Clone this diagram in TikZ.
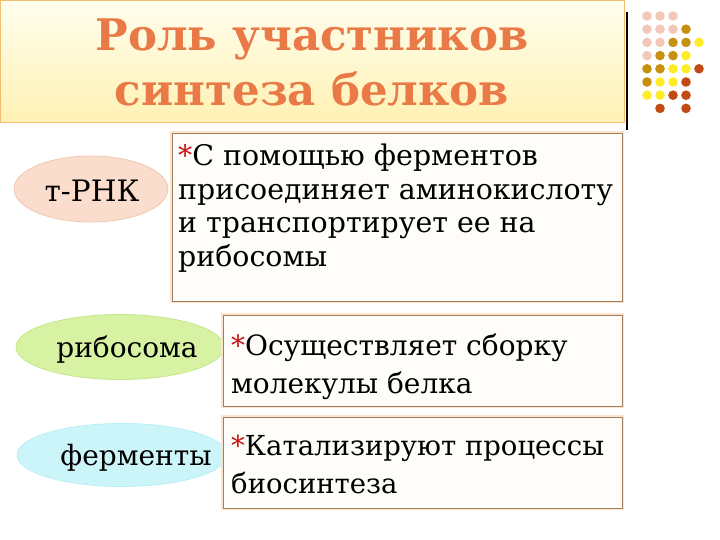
\documentclass[tikz,border=0pt]{standalone}
\usepackage{fontspec}
\setmainfont{DejaVu Serif}
\usetikzlibrary{shapes.geometric}
\definecolor{titlecol}{RGB}{233,122,72}
\definecolor{tboxtop}{RGB}{255,254,238}
\definecolor{tboxbot}{RGB}{255,241,180}
\definecolor{tboxline}{RGB}{240,190,110}
\definecolor{boxline}{RGB}{160,125,95}
\definecolor{boxglow}{RGB}{252,228,205}
\definecolor{boxfill}{RGB}{255,253,250}
\definecolor{starcol}{RGB}{200,20,20}
\definecolor{pinkfill}{RGB}{250,221,204}
\definecolor{pinkline}{RGB}{240,200,176}
\definecolor{greenfill}{RGB}{214,242,162}
\definecolor{greenline}{RGB}{196,232,140}
\definecolor{cyanfill}{RGB}{204,245,250}
\definecolor{cyanline}{RGB}{184,238,245}
\definecolor{dotP}{RGB}{244,200,184}
\definecolor{dotG}{RGB}{200,144,15}
\definecolor{dotY}{RGB}{255,236,40}
\definecolor{dotR}{RGB}{196,74,20}
\tikzset{
  titlebox/.style={draw=tboxline, line width=0.8pt, top color=tboxtop, bottom color=tboxbot, inner sep=0pt, anchor=north west},
  titletext/.style={text=titlecol, font=\fontsize{43.5}{55}\selectfont\bfseries, align=center},
  descbox/.style={draw=boxline, line width=0.8pt, fill=boxfill, inner sep=0pt, anchor=north west,
    preaction={draw=boxglow, line width=4pt}},
  desctext/.style={align=left, anchor=base west, inner sep=0pt},
  oval/.style={ellipse, inner sep=0pt, line width=0.8pt},
  ovaltext/.style={anchor=base, inner sep=0pt, font=\fontsize{28}{32}\selectfont}
}
\newcommand{\redstar}{\textcolor{starcol}{*}}
\begin{document}
\begin{tikzpicture}[x=1pt,y=-1pt]
\useasboundingbox (0,0) rectangle (720,540);
% title
\node[titlebox, minimum width=624pt, minimum height=122pt] (tbox) at (0,0) {};
\draw[black, line width=1.5pt] (627,12) -- (627,130);
\node[titletext] (title) at (312,62) {Роль участников\\синтеза белков};
% dots
\foreach \c/\r/\col in {0/0/dotP,1/0/dotP,2/0/dotP,
  0/1/dotP,1/1/dotP,2/1/dotP,3/1/dotG,
  0/2/dotP,1/2/dotP,2/2/dotG,3/2/dotG,4/2/dotY,
  0/3/dotP,1/3/dotG,2/3/dotG,3/3/dotY,
  0/4/dotG,1/4/dotG,2/4/dotY,3/4/dotY,4/4/dotR,
  0/5/dotG,1/5/dotY,2/5/dotY,3/5/dotR,
  0/6/dotY,1/6/dotY,2/6/dotR,3/6/dotR,
  1/7/dotR,3/7/dotR}
  \fill[\col] ({647+13*\c},{16+13.2*\r}) circle (4.8pt);
% ovals
\node[oval, draw=pinkline, fill=pinkfill, minimum width=154pt, minimum height=66pt] (trna) at (91,189) {};
\node[oval, draw=greenline, fill=greenfill, minimum width=208pt, minimum height=65pt] (ribo) at (120,347) {};
\node[oval, draw=cyanline, fill=cyanfill, minimum width=210pt, minimum height=63pt] (ferm) at (122,455) {};
\node[ovaltext, font=\fontsize{29.5}{32}\selectfont] (trnat) at (92,202) {т-РНК};
\node[ovaltext] (ribot) at (127,357) {рибосома};
\node[ovaltext] (fermt) at (136,465) {ферменты};
% boxes
\node[descbox, minimum width=450pt, minimum height=168pt] (b1) at (172,133) {};
\node[descbox, minimum width=399pt, minimum height=91pt] (b2) at (223,315) {};
\node[descbox, minimum width=399pt, minimum height=91pt] (b3) at (223,417) {};
\node[desctext, font=\fontsize{28.4}{33.5}\selectfont] (t1) at (178,266) {\redstar С помощью ферментов\\присоединяет аминокислоту\\и транспортирует ее на\\рибосомы};
\node[desctext, font=\fontsize{28}{38}\selectfont] (t2) at (231,393) {\redstar Осуществляет сборку\\молекулы белка};
\node[desctext, font=\fontsize{27.5}{38}\selectfont] (t3) at (231,493) {\redstar Катализируют процессы\\биосинтеза};
\end{tikzpicture}
\end{document}
